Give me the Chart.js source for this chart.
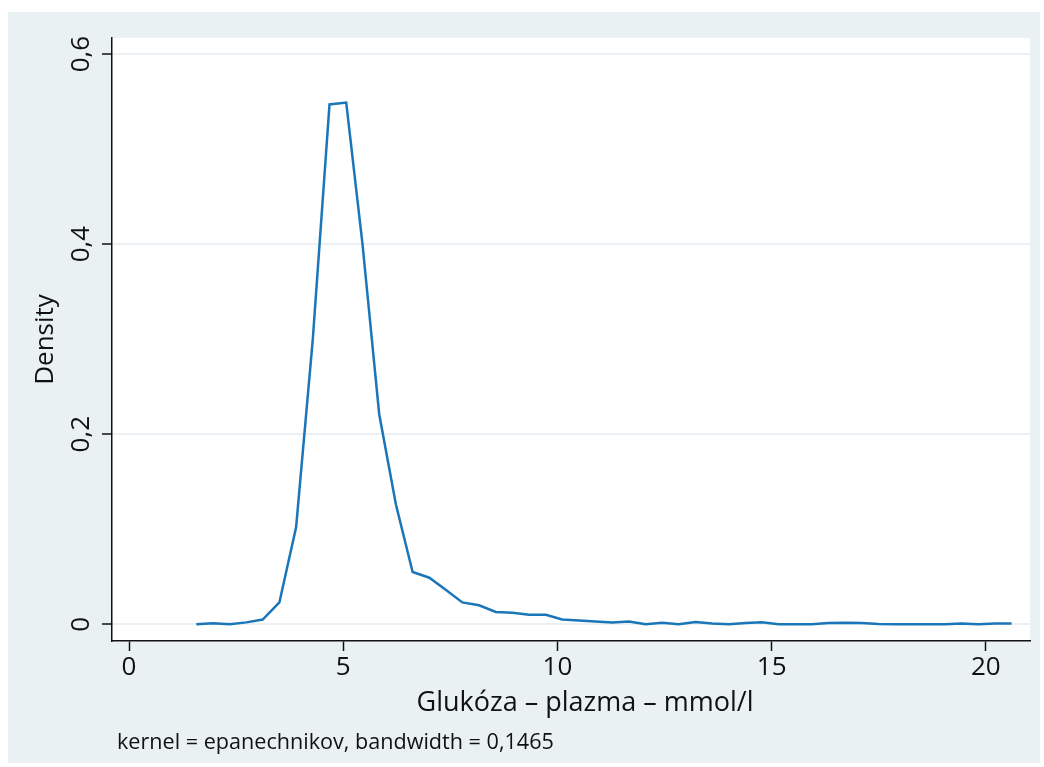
<!DOCTYPE html>
<html>
<head>
<meta charset="utf-8">
<title>Kernel density - Glukóza</title>
<script src="https://cdn.jsdelivr.net/npm/chart.js@4.4.1/dist/chart.umd.min.js"></script>
<style>
    html, body { margin: 0; padding: 0; background: #ffffff; }
    #wrap { width: 1044px; height: 767px; }
</style>
</head>
<body>
<div id="wrap"><canvas id="densityChart" width="1044" height="767"></canvas></div>
<script>
// Puntos de la estimación (50 puntos, kdensity)
const glucoseValues = [
    1.57, 1.96, 2.35, 2.74, 3.12, 3.51, 3.90, 4.29, 4.68, 5.07,
    5.45, 5.84, 6.23, 6.62, 7.01, 7.40, 7.78, 8.17, 8.56, 8.95,
    9.34, 9.73, 10.11, 10.50, 10.89, 11.28, 11.67, 12.06, 12.44, 12.83,
    13.22, 13.61, 14.00, 14.39, 14.77, 15.16, 15.55, 15.94, 16.33, 16.72,
    17.10, 17.49, 17.88, 18.27, 18.66, 19.05, 19.43, 19.82, 20.21, 20.60
];
const densityValues = [
    0.000, 0.001, 0.000, 0.002, 0.005, 0.023, 0.102, 0.300, 0.547, 0.549,
    0.400, 0.221, 0.126, 0.055, 0.049, 0.036, 0.023, 0.020, 0.013, 0.012,
    0.010, 0.010, 0.005, 0.004, 0.003, 0.002, 0.003, 0.000, 0.0015, 0.000,
    0.0025, 0.0007, 0.000, 0.0014, 0.002, 0.000, 0.000, 0.000, 0.0014, 0.0017,
    0.0014, 0.0004, 0.000, 0.000, 0.000, 0.000, 0.0007, 0.000, 0.0007, 0.0007
];

// Marcas de los ejes
const xTickValues = [0, 5, 10, 15, 20];
const yTickValues = [0, 0.2, 0.4, 0.6];
const yTickLabels = ['0', '0,2', '0,4', '0,6'];

const xTitle = 'Glukóza – plazma – mmol/l';
const yTitle = 'Density';
const noteText = 'kernel = epanechnikov, bandwidth = 0,1465';

const FONT = '"Open Sans", "Noto Sans", sans-serif';
const INK = '#111111';

// Fondo estilo Stata, título del eje X y nota inferior
const stataFrame = {
    id: 'stataFrame',
    beforeDraw(chart) {
        const { ctx, chartArea } = chart;
        ctx.save();
        ctx.fillStyle = '#ffffff';
        ctx.fillRect(0, 0, chart.width, chart.height);
        ctx.fillStyle = '#eaf1f3';
        ctx.fillRect(8, 12, 1032, 751);
        ctx.fillStyle = '#ffffff';
        ctx.fillRect(chartArea.left, chartArea.top,
            chartArea.right - chartArea.left, chartArea.bottom - chartArea.top);
        ctx.restore();
    },
    afterDraw(chart) {
        const ctx = chart.ctx;
        ctx.save();
        ctx.fillStyle = INK;
        // título del eje X (Stata lo deja algo a la derecha)
        ctx.font = '27px ' + FONT;
        ctx.textAlign = 'center';
        ctx.textBaseline = 'middle';
        ctx.fillText(xTitle, 585, 703);
        // nota del kernel
        ctx.font = '21.6px ' + FONT;
        ctx.textAlign = 'left';
        ctx.textBaseline = 'alphabetic';
        ctx.fillText(noteText, 117, 749);
        ctx.restore();
    }
};

const ctx = document.getElementById('densityChart').getContext('2d');
const densityChart = new Chart(ctx, {
    type: 'line',
    data: {
        datasets: [{
            label: 'Density',
            data: glucoseValues.map((x, i) => ({ x: x, y: densityValues[i] })),
            borderColor: '#1a76b8',
            borderWidth: 2.5,
            pointRadius: 0,
            tension: 0,
            fill: false
        }]
    },
    options: {
        responsive: false,
        devicePixelRatio: 1,
        animation: false,
        layout: { padding: { top: 38, right: 14, left: 0, bottom: 0 } },
        plugins: {
            legend: { display: false },
            tooltip: { enabled: false }
        },
        scales: {
            x: {
                type: 'linear',
                min: -0.397,
                max: 21.03,
                afterBuildTicks: scale => {
                    scale.ticks = xTickValues.map(v => ({ value: v }));
                },
                afterFit: scale => { scale.height = 126; },
                ticks: {
                    font: { family: FONT, size: 26 },
                    color: INK,
                    padding: 1,
                    maxRotation: 0,
                    callback: v => String(v)
                },
                grid: {
                    drawOnChartArea: false,
                    drawTicks: true,
                    tickLength: 10,
                    tickColor: INK,
                    tickWidth: 1.5
                },
                border: { display: true, color: INK, width: 1.5 },
                title: { display: false }
            },
            y: {
                type: 'linear',
                min: -0.0176,
                max: 0.6169,
                afterBuildTicks: scale => {
                    scale.ticks = yTickValues.map(v => ({ value: v }));
                },
                afterFit: scale => { scale.width = 112; },
                ticks: {
                    font: { family: FONT, size: 26 },
                    color: INK,
                    padding: 2,
                    minRotation: 90,
                    maxRotation: 90,
                    crossAlign: 'center',
                    callback: v => yTickLabels[yTickValues.indexOf(v)]
                },
                grid: {
                    color: '#eaf0f3',
                    lineWidth: 2,
                    drawTicks: true,
                    tickLength: 10,
                    tickColor: INK,
                    tickWidth: 1.5
                },
                border: { display: true, color: INK, width: 1.5 },
                title: {
                    display: true,
                    text: yTitle,
                    color: INK,
                    font: { family: FONT, size: 26 },
                    padding: { top: 30, bottom: 0 }
                }
            }
        }
    },
    plugins: [stataFrame]
});
</script>
</body>
</html>
